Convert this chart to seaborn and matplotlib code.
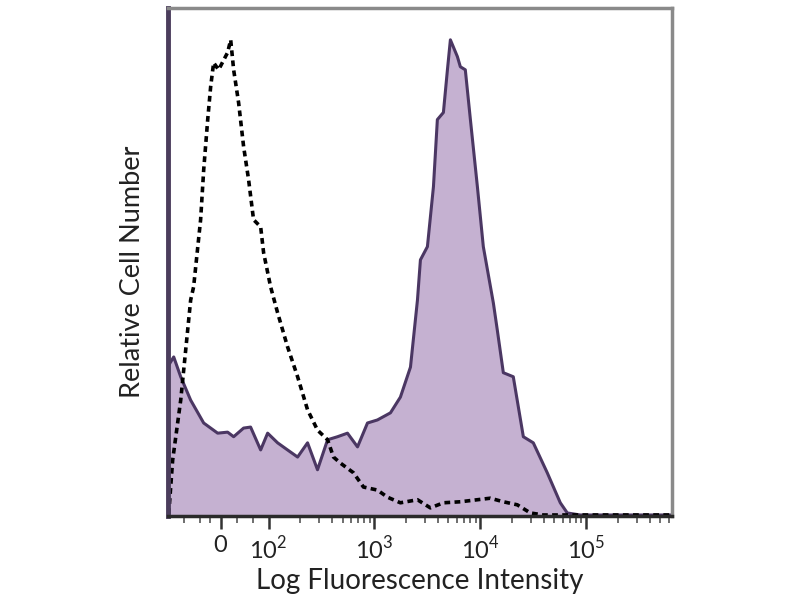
import numpy as np
import pandas as pd
import seaborn as sns
import matplotlib
matplotlib.use("Agg")
import matplotlib.pyplot as plt

# x in decade units (10^2 -> 2, 10^3 -> 3 ...), y in % of axis height
stained_x = [1.057, 1.104, 1.170, 1.264, 1.387, 1.519, 1.613, 1.670, 1.764, 1.830,
             1.925, 1.991, 2.085, 2.179, 2.274, 2.368, 2.462, 2.557, 2.651, 2.745,
             2.840, 2.934, 3.028, 3.151, 3.245, 3.340, 3.406, 3.434, 3.500, 3.557,
             3.594, 3.651, 3.689, 3.717, 3.783, 3.811, 3.858, 3.906, 3.972, 4.028,
             4.123, 4.160, 4.217, 4.311, 4.406, 4.500, 4.632, 4.755, 4.821, 4.943,
             5.321, 5.811]
stained_y = [29.7, 31.3, 27.4, 22.8, 18.3, 16.3, 16.5, 15.6, 17.3, 17.5,
             13.0, 16.3, 14.4, 13.0, 11.6, 14.4, 9.1, 15.0, 15.6, 16.3,
             13.6, 18.3, 18.9, 20.3, 23.4, 29.3, 42.5, 50.4, 53.0, 64.8,
             78.0, 79.4, 87.8, 93.7, 90.4, 88.4, 87.8, 78.0, 64.8, 53.0,
             41.9, 36.6, 28.2, 27.4, 15.6, 14.4, 8.5, 2.6, 0.6, 0.2,
             0.2, 0.2]

control_x = [1.057, 1.094, 1.170, 1.264, 1.292, 1.358, 1.387, 1.425, 1.453, 1.481,
             1.528, 1.613, 1.642, 1.670, 1.717, 1.764, 1.811, 1.858, 1.925, 1.953,
             2.019, 2.085, 2.179, 2.274, 2.368, 2.462, 2.557, 2.613, 2.679, 2.802,
             2.896, 3.028, 3.123, 3.245, 3.406, 3.528, 3.651, 3.811, 3.972, 4.094,
             4.217, 4.349, 4.472, 4.594, 5.132, 5.811]
control_y = [0.4, 11.0, 22.8, 42.5, 45.1, 58.3, 68.1, 78.0, 84.5, 89.2,
             87.8, 91.2, 93.7, 87.8, 81.3, 72.7, 66.2, 58.3, 56.9, 51.8,
             45.1, 40.0, 33.3, 27.4, 20.9, 16.9, 15.0, 11.6, 10.4, 8.5,
             5.7, 5.1, 3.7, 2.6, 3.2, 1.6, 2.6, 2.8, 3.2, 3.5,
             2.8, 2.2, 0.6, 0.2, 0.2, 0.2]

zero_pos = 1.547
tick_pos = [zero_pos, 2, 3, 4, 5]
tick_labels = ["0", "$10^2$", "$10^3$", "$10^4$", "$10^5$"]

df_s = pd.DataFrame({"x": stained_x, "y": stained_y})
df_c = pd.DataFrame({"x": control_x, "y": control_y})

sns.set_style("white")
plt.rcParams["font.family"] = ["Lato", "DejaVu Sans"]
plt.rcParams["mathtext.fontset"] = "custom"
plt.rcParams["mathtext.rm"] = "Lato"

fig = plt.figure(figsize=(8, 6), dpi=100)
ax = fig.add_axes([0.21, 0.14, 0.63, 0.847])

fill_col = "#c5b1d1"
line_col = "#4b3763"
ax.fill_between(df_s["x"], 0, df_s["y"], color=fill_col, lw=0)
sns.lineplot(data=df_s, x="x", y="y", ax=ax, sort=False, estimator=None,
             color=line_col, lw=2.2)
sns.lineplot(data=df_c, x="x", y="y", ax=ax, sort=False, estimator=None,
             color="black", lw=2.6, linestyle=(0, (1.6, 1.2)))

ax.set_xlim(1.05, 5.81)
ax.set_ylim(0, 100)
ax.set_yticks([])
ax.set_xticks(tick_pos)
ax.set_xticklabels(tick_labels, fontsize=17, color="#222222")
minor = [1.2, 1.35, 1.45, 1.7, 1.85]
for d in [2, 3, 4, 5]:
    minor += [d + np.log10(k) for k in range(2, 10) if d + np.log10(k) < 5.8]
ax.set_xticks(minor, minor=True)
ax.tick_params(axis="x", which="major", direction="out", length=9, width=1.8,
               color="#333333", pad=5, bottom=True)
ax.tick_params(axis="x", which="minor", direction="out", length=5, width=1.2,
               color="#555555", bottom=True)

for side in ["top", "right"]:
    ax.spines[side].set_color("#8a8a8a")
    ax.spines[side].set_linewidth(2.5)
ax.spines["left"].set_color("#4b3d5c")
ax.spines["left"].set_linewidth(3.5)
ax.spines["bottom"].set_color("#2a2a2a")
ax.spines["bottom"].set_linewidth(2.5)

ax.set_xlabel("Log Fluorescence Intensity", fontsize=20, color="#222222", labelpad=3)
ax.set_ylabel("Relative Cell Number", fontsize=19.5, color="#222222")
ax.yaxis.set_label_coords(-0.045, 0.48)

fig.savefig("out.png", dpi=100)
